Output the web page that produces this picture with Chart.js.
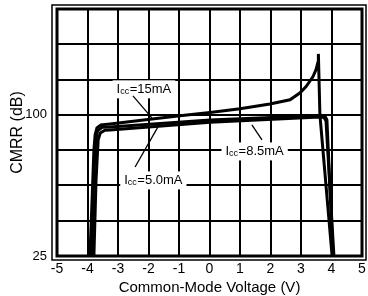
<!DOCTYPE html>
<html>
<head>
<meta charset="utf-8">
<script src="https://cdn.jsdelivr.net/npm/chart.js@4.4.1/dist/chart.umd.min.js"></script>
<style>
  html, body { margin: 0; padding: 0; background: #fff; }
  canvas { display: block; }
</style>
</head>
<body>
<canvas id="c" width="368" height="296"></canvas>
<script>
// ---- data ----
const xTicks = [-5, -4, -3, -2, -1, 0, 1, 2, 3, 4, 5];
const yTicks = [25, 43.75, 62.5, 81.25, 100, 118.75, 137.5, 156.25];
const yTickLabels = ['25', '', '', '', '100', '', '', ''];

const voltage15 = [-3.92, -3.85, -3.79, -3.75, -3.69, -3.56, -3.26, -1.95, -0.97, 0.02, 1.00, 1.98, 2.64, 2.97, 3.16, 3.39, 3.49, 3.56, 3.57, 3.62, 4.02];
const cmrr15    = [25, 54.8, 81.4, 89.4, 93.1, 94.7, 95.2, 97.7, 99.5, 101.2, 103.2, 105.8, 108.0, 111.7, 114.9, 120.2, 123.9, 128.2, 132.4, 100, 25];

const voltage85 = [-3.86, -3.80, -3.73, -3.67, -3.52, -3.26, 0.02, 3.62, 3.79, 3.85, 4.05];
const cmrr85    = [25, 65.4, 86.7, 91.5, 93.4, 93.6, 97.3, 99.6, 99.2, 97.3, 25];

const voltage50 = [-3.79, -3.72, -3.65, -3.58, -3.43, -3.26, 0.02, 3.62, 3.75, 3.82, 4.08];
const cmrr50    = [25, 65.4, 86.7, 90.4, 91.8, 92.0, 96.1, 98.8, 98.7, 96.8, 25];

const seriesNames = ['Icc=15mA', 'Icc=8.5mA', 'Icc=5.0mA'];

// annotation labels (value text, anchor in data units, pointer in data units)
const annotations = [
  { text: '=15mA',  v: -2.15, db: 114.1, p: [-2.51, 110.1, -1.89, 98.4] },
  { text: '=8.5mA', v: 1.48,  db: 81.1,  p: [1.72, 86.7, 1.39, 94.7] },
  { text: '=5.0mA', v: -1.84, db: 65.7,  p: [-2.44, 72.3, -1.69, 93.6] }
];

const FONT = "'Liberation Sans', Arial, sans-serif";

function pts(xs, ys) { return xs.map((x, i) => ({ x: x, y: ys[i] })); }

const decor = {
  id: 'decor',
  afterDraw(chart) {
    const ctx = chart.ctx;
    const a = chart.chartArea;
    const xs = chart.scales.x, ys = chart.scales.y;
    ctx.save();
    // frames
    ctx.strokeStyle = '#000';
    ctx.lineWidth = 3;
    ctx.strokeRect(a.left, a.top, a.right - a.left, a.bottom - a.top);
    ctx.lineWidth = 1.5;
    ctx.strokeRect(a.left - 5, a.top - 4, a.right - a.left + 9, a.bottom - a.top + 8);
    // labels
    annotations.forEach(an => {
      const cx = xs.getPixelForValue(an.v);
      const cy = ys.getPixelForValue(an.db);
      const mainF = '13px ' + FONT;
      const subF = '9px ' + FONT;
      ctx.font = mainF;
      const wI = ctx.measureText('I').width;
      const wR = ctx.measureText(an.text).width;
      ctx.font = subF;
      const wS = ctx.measureText('cc').width;
      const total = wI + wS + 0.5 + wR;
      const x0 = cx - total / 2;
      ctx.fillStyle = '#fff';
      ctx.fillRect(x0 - 4, cy - 8, total + 8, 18);
      ctx.fillStyle = '#000';
      ctx.textBaseline = 'alphabetic';
      ctx.textAlign = 'left';
      const base = cy + 5;
      ctx.font = mainF;
      ctx.fillText('I', x0, base);
      ctx.font = subF;
      ctx.fillText('cc', x0 + wI, base + 0.5);
      ctx.font = mainF;
      ctx.fillText(an.text, x0 + wI + wS + 0.5, base);
      // pointer
      ctx.lineWidth = 1.3;
      ctx.beginPath();
      ctx.moveTo(xs.getPixelForValue(an.p[0]), ys.getPixelForValue(an.p[1]));
      ctx.lineTo(xs.getPixelForValue(an.p[2]), ys.getPixelForValue(an.p[3]));
      ctx.stroke();
    });
    ctx.restore();
  }
};

const lineStyle = { borderColor: '#000', backgroundColor: '#000', borderWidth: 3, pointRadius: 0, tension: 0, fill: false, clip: 4 };

new Chart(document.getElementById('c'), {
  type: 'line',
  data: {
    datasets: [
      Object.assign({ label: seriesNames[0], data: pts(voltage15, cmrr15) }, lineStyle),
      Object.assign({ label: seriesNames[1], data: pts(voltage85, cmrr85) }, lineStyle),
      Object.assign({ label: seriesNames[2], data: pts(voltage50, cmrr50) }, lineStyle)
    ]
  },
  options: {
    responsive: false,
    animation: false,
    devicePixelRatio: 1,
    layout: { padding: { left: 0, right: 6, top: 9, bottom: 0 } },
    plugins: { legend: { display: false }, tooltip: { enabled: false } },
    scales: {
      x: {
        type: 'linear', min: -5, max: 5,
        afterBuildTicks: s => { s.ticks = xTicks.map(v => ({ value: v })); },
        afterFit: s => { s.height = 40; s.paddingLeft = 0; s.paddingRight = 0; },
        grid: { color: '#000', lineWidth: 2, drawTicks: false },
        border: { display: false },
        ticks: { color: '#000', padding: 5, font: { family: FONT, size: 14 }, maxRotation: 0, callback: v => String(v) },
        title: { display: true, text: 'Common-Mode Voltage (V)', color: '#000', font: { family: FONT, size: 15, lineHeight: 1 }, padding: { top: 0, bottom: 1 } }
      },
      y: {
        type: 'linear', min: 25, max: 156.25,
        afterBuildTicks: s => { s.ticks = yTicks.map(v => ({ value: v })); },
        afterFit: s => { s.width = 57; s.paddingTop = 0; s.paddingBottom = 0; },
        grid: { color: '#000', lineWidth: 2, drawTicks: false },
        border: { display: false },
        ticks: { color: '#000', padding: 10, font: { family: FONT, size: 13 }, callback: (v) => yTickLabels[yTicks.indexOf(v)] || '' },
        title: { display: true, text: 'CMRR (dB)', color: '#000', font: { family: FONT, size: 16, lineHeight: 1 }, padding: { top: 10, bottom: 0 } }
      }
    }
  },
  plugins: [decor]
});
</script>
</body>
</html>
